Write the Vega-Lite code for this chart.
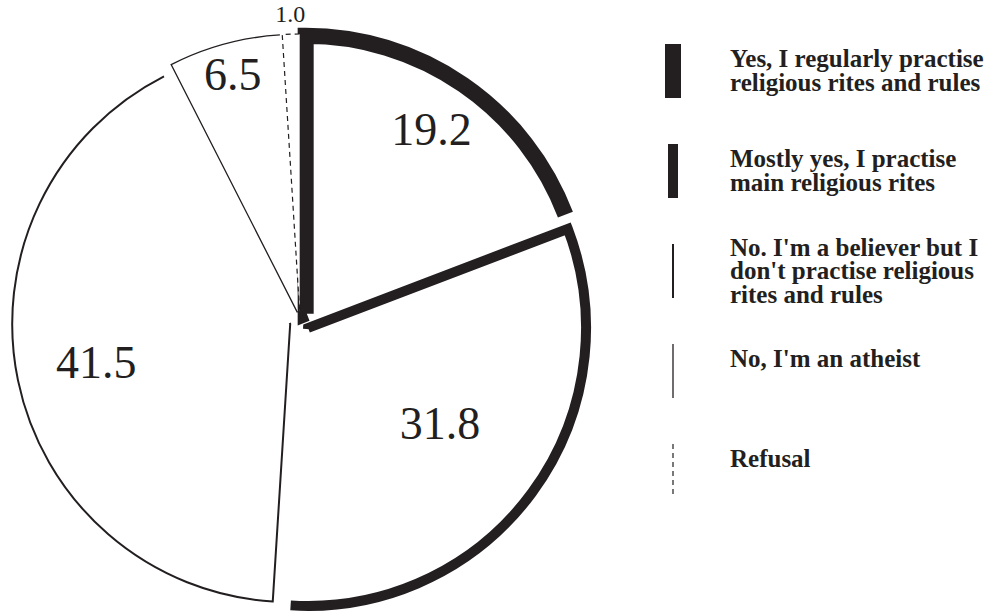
{
  "$schema": "https://vega.github.io/schema/vega-lite/v6.json",
  "width": 600,
  "height": 580,
  "autosize": "none",
  "padding": {"left": 0, "top": 32, "right": 408, "bottom": 0},
  "background": "white",
  "config": {"view": {"stroke": null}},
  "data": {
    "values": [
      {"idx": 1, "answer": "Yes, I regularly practise\nreligious rites and rules", "value": 19.2},
      {"idx": 2, "answer": "Mostly yes, I practise\nmain religious rites", "value": 31.8},
      {"idx": 3, "answer": "No. I'm a believer but I\ndon't practise religious\nrites and rules", "value": 41.5},
      {"idx": 4, "answer": "No, I'm an atheist\n", "value": 6.5},
      {"idx": 5, "answer": "Refusal\n", "value": 1.0}
    ]
  },
  "layer": [
    {
      "mark": {
        "type": "arc",
        "outerRadius": 278,
        "filled": false,
        "fill": "white",
        "stroke": "#231f20",
        "strokeDash": {"expr": "datum.idx == 5 ? [5,4,5,4,5,4,5,4,5,4,5,4,5,4,5,4,5,4,5,4,5,4,5,4,5,4,5,4,5,4,5,4,5,4,5,4,5,4,5,4,5,4,5,4,5,4,5,4,5,4,5,4,5,4,5,4,5,4,5,4,5,4,5,4,5,300] : [5.56*PI*datum.value + 279, 300]"},
        "xOffset": {"expr": "10*sin(PI*(datum.value_start+datum.value_end)/100)"},
        "yOffset": {"expr": "-10*cos(PI*(datum.value_start+datum.value_end)/100)"}
      },
      "encoding": {
        "theta": {"field": "value", "type": "quantitative", "stack": true},
        "order": {"field": "idx", "type": "quantitative"},
        "strokeWidth": {
          "field": "answer", "type": "nominal", "sort": null,
          "scale": {"type": "ordinal", "range": [16, 10, 2, 1.3, 1.2]},
          "legend": null
        }
      }
    },
    {
      "mark": {"type": "text", "font": "Liberation Serif", "color": "#231f20", "baseline": "middle", "align": "center"},
      "encoding": {
        "theta": {"field": "value", "type": "quantitative", "stack": true},
        "order": {"field": "idx", "type": "quantitative"},
        "radius": {
          "field": "value", "type": "quantitative",
          "scale": {"type": "linear", "domain": [1, 6.5, 19.2, 31.8, 41.5], "range": [307, 255, 232, 174, 208], "zero": false, "nice": false}
        },
        "text": {"field": "value", "type": "quantitative", "format": ".1f"},
        "size": {"condition": {"test": "datum.value < 2", "value": 24}, "value": 46}
      }
    },
    {
      "mark": {"type": "rule", "color": "#231f20", "yOffset": -27, "y2Offset": 27},
      "encoding": {
        "x": {"datum": 0, "type": "quantitative", "scale": {"domain": [0, 1], "range": [673, 730]}, "axis": null},
        "y": {"field": "idx", "type": "quantitative", "scale": {"domain": [0.5, 5.5], "range": [-11, 489], "zero": false, "nice": false}, "axis": null},
        "y2": {"field": "idx"},
        "strokeWidth": {
          "field": "answer", "type": "nominal", "sort": null,
          "scale": {"type": "ordinal", "range": [16, 10, 2, 1.3, 1.2]},
          "legend": null
        },
        "strokeDash": {"condition": {"test": "datum.idx == 5", "value": [5, 4]}, "value": [1, 0]}
      }
    },
    {
      "mark": {
        "type": "text", "font": "Liberation Serif", "fontSize": 25, "fontWeight": "bold",
        "color": "#231f20", "align": "left", "baseline": "middle", "lineBreak": "\n", "lineHeight": 23.5,
        "dy": {"expr": "-11.75*(length(split(datum.answer, '\\n'))-1)"}
      },
      "encoding": {
        "x": {"datum": 1, "type": "quantitative"},
        "y": {"field": "idx", "type": "quantitative"},
        "text": {"field": "answer"}
      }
    }
  ]
}
